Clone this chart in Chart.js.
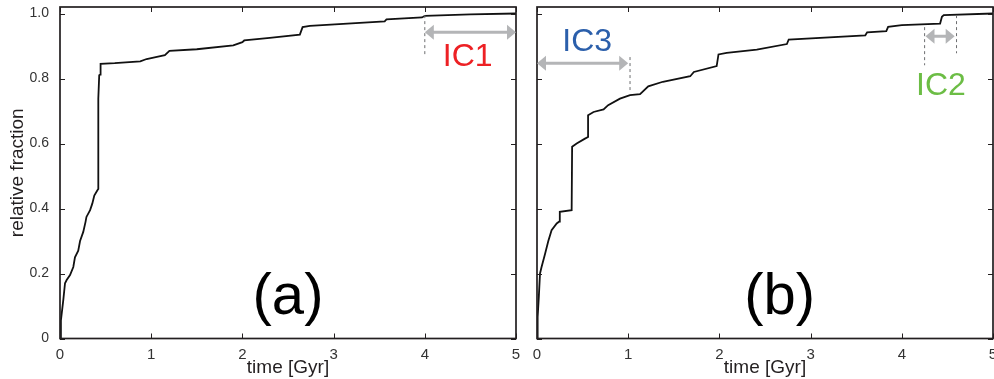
<!DOCTYPE html>
<html>
<head>
<meta charset="utf-8">
<script src="https://cdn.jsdelivr.net/npm/chart.js@4.4.1/dist/chart.umd.min.js"></script>
<style>
  html, body { margin: 0; padding: 0; background: #fff; }
  #wrap { position: relative; width: 994px; height: 379px; overflow: hidden; }
  canvas { position: absolute; top: 0; }
  #chart-a { left: 0; }
  #chart-b { left: 526px; }
</style>
</head>
<body>
<div id="wrap">
  <canvas id="chart-a" width="526" height="379"></canvas>
  <canvas id="chart-b" width="468" height="379"></canvas>
</div>
<script>
// cumulative fraction vs time, panel (a)
const timeA = [0, 0.01, 0.036, 0.055, 0.073, 0.11, 0.146, 0.164, 0.2, 0.22, 0.255, 0.28, 0.29, 0.33, 0.354, 0.376, 0.41, 0.42,
  0.42, 0.43, 0.44, 0.445, 0.6, 0.88, 0.95, 1.05, 1.15, 1.2, 1.5, 1.9, 2.0, 2.02, 2.3, 2.63, 2.66, 2.74, 3.56, 3.58, 3.97, 4.0, 4.5, 5.0];
const fracA = [0, 0.056, 0.118, 0.17, 0.18, 0.195, 0.22, 0.25, 0.27, 0.30, 0.328, 0.359, 0.374, 0.395, 0.415, 0.44, 0.456, 0.46,
  0.738, 0.81, 0.812, 0.845, 0.847, 0.853, 0.86, 0.866, 0.872, 0.885, 0.89, 0.902, 0.912, 0.917, 0.925, 0.935, 0.958, 0.962, 0.976, 0.982, 0.988, 0.993, 0.997, 1.0];

// panel (b)
const timeB = [0, 0.007, 0.02, 0.033, 0.05, 0.088, 0.124, 0.16, 0.216, 0.245, 0.25, 0.38, 0.385, 0.435, 0.526, 0.56, 0.56, 0.62, 0.73, 0.78,
  0.91, 1.02, 1.13, 1.22, 1.38, 1.68, 1.72, 1.97, 1.99, 2.08, 2.41, 2.74, 2.76, 3.6, 3.62, 3.83, 3.85, 4.0, 4.42, 4.44, 4.46, 5.0];
const fracB = [0, 0.066, 0.128, 0.2, 0.22, 0.26, 0.30, 0.333, 0.354, 0.36, 0.39, 0.395, 0.59, 0.60, 0.615, 0.62, 0.687, 0.697, 0.705, 0.718,
  0.738, 0.749, 0.752, 0.776, 0.79, 0.807, 0.82, 0.838, 0.874, 0.879, 0.889, 0.906, 0.92, 0.933, 0.942, 0.946, 0.959, 0.964, 0.969, 0.99, 0.995, 1.0];

const xTicks = [0, 1, 2, 3, 4, 5];
const yTicks = [0, 0.2, 0.4, 0.6, 0.8, 1.0];

// IC time windows [start, end] in Gyr
const ic1Span = [4.0, 5.0];
const ic2Span = [4.25, 4.6];
const ic3Span = [0, 1.02];

const FONT = 'Liberation Sans, Arial, sans-serif';
const INK = '#231f20';

function grayArrow(ctx, x1, x2, py) {
  const head = 9, half = 7.5;
  ctx.fillStyle = '#b4b5b7';
  ctx.strokeStyle = '#b4b5b7';
  ctx.lineWidth = 3;
  ctx.beginPath(); ctx.moveTo(x1 + head - 1, py); ctx.lineTo(x2 - head + 1, py); ctx.stroke();
  ctx.beginPath(); ctx.moveTo(x1, py); ctx.lineTo(x1 + head, py - half); ctx.lineTo(x1 + head, py + half); ctx.closePath(); ctx.fill();
  ctx.beginPath(); ctx.moveTo(x2, py); ctx.lineTo(x2 - head, py - half); ctx.lineTo(x2 - head, py + half); ctx.closePath(); ctx.fill();
}

function dashLine(ctx, px, py1, py2) {
  ctx.save();
  ctx.strokeStyle = '#6d6e70';
  ctx.lineWidth = 1;
  ctx.setLineDash([3, 3]);
  ctx.beginPath(); ctx.moveTo(px, py1); ctx.lineTo(px, py2); ctx.stroke();
  ctx.restore();
}

// frame with inward ticks + annotations
const panelPlugin = {
  id: 'panelMarks',
  afterDatasetsDraw(chart, args, opts) {
    const { ctx, chartArea: a, scales: { x, y } } = chart;
    ctx.save();
    ctx.strokeStyle = INK;
    ctx.lineWidth = 1;
    x.ticks.forEach(t => {
      const px = Math.round(x.getPixelForValue(t.value)) + 0.5;
      ctx.beginPath(); ctx.moveTo(px, a.bottom); ctx.lineTo(px, a.bottom - 5); ctx.stroke();
      ctx.beginPath(); ctx.moveTo(px, a.top); ctx.lineTo(px, a.top + 5); ctx.stroke();
    });
    y.ticks.forEach(t => {
      const py = Math.round(y.getPixelForValue(t.value)) + 0.5;
      ctx.beginPath(); ctx.moveTo(a.left, py); ctx.lineTo(a.left + 5, py); ctx.stroke();
      ctx.beginPath(); ctx.moveTo(a.right, py); ctx.lineTo(a.right - 5, py); ctx.stroke();
    });
    ctx.lineWidth = 1.7;
    ctx.strokeRect(a.left, a.top, a.right - a.left, a.bottom - a.top);

    (opts.windows || []).forEach(w => {
      w.dashes.forEach(d => dashLine(ctx, x.getPixelForValue(d.t), y.getPixelForValue(d.from), y.getPixelForValue(d.to)));
      grayArrow(ctx, x.getPixelForValue(w.span[0]), x.getPixelForValue(w.span[1]), y.getPixelForValue(w.arrowY));
      ctx.fillStyle = w.color;
      ctx.font = '32px ' + FONT;
      ctx.textAlign = 'center';
      ctx.textBaseline = 'middle';
      ctx.fillText(w.text, x.getPixelForValue(w.labelT), y.getPixelForValue(w.labelY));
    });

    ctx.fillStyle = '#000';
    ctx.font = '58px ' + FONT;
    ctx.textAlign = 'center';
    ctx.textBaseline = 'middle';
    ctx.fillText(opts.tag, x.getPixelForValue(opts.tagT), y.getPixelForValue(opts.tagY));
    ctx.restore();
  }
};

function makePanel(id, times, fracs, showY, axisW, rightPad, marks) {
  return new Chart(document.getElementById(id), {
    type: 'line',
    data: {
      datasets: [{
        data: times.map((t, i) => ({ x: t, y: fracs[i] })),
        borderColor: '#111',
        borderWidth: 1.8,
        pointRadius: 0,
        tension: 0,
        fill: false
      }]
    },
    options: {
      responsive: false,
      animation: false,
      devicePixelRatio: 1,
      layout: { padding: { left: 0, right: rightPad, top: 7, bottom: 0 } },
      plugins: { legend: { display: false }, tooltip: { enabled: false }, panelMarks: marks },
      scales: {
        x: {
          type: 'linear', min: 0, max: 5,
          afterBuildTicks: s => { s.ticks = xTicks.map(v => ({ value: v })); },
          afterFit: s => { s.height = 40.5; s.paddingLeft = 0; s.paddingRight = 0; },
          grid: { display: false, drawTicks: false }, border: { display: false },
          ticks: { color: '#333', font: { family: FONT, size: 15 }, padding: 7, maxRotation: 0 },
          title: { display: true, text: 'time [Gyr]', color: INK, font: { family: FONT, size: 19 }, padding: { top: 0, bottom: 0 } }
        },
        y: {
          type: 'linear', min: 0, max: 1.02,
          afterBuildTicks: s => { s.ticks = yTicks.map(v => ({ value: v })); },
          afterFit: s => { s.width = axisW; s.paddingTop = 0; s.paddingBottom = 0; },
          grid: { display: false, drawTicks: false }, border: { display: false },
          ticks: { display: showY, color: '#333', font: { family: FONT, size: 14 }, padding: 11,
                   callback: v => v === 0 ? '0' : v.toFixed(1) },
          title: { display: showY, text: 'relative fraction', color: INK, font: { family: FONT, size: 19 }, padding: { top: 6, bottom: 0 } }
        }
      }
    },
    plugins: [panelPlugin]
  });
}

makePanel('chart-a', timeA, fracA, true, 60, 10, {
  tag: '(a)', tagT: 2.5, tagY: 0.124,
  windows: [
    { text: 'IC1', color: '#ed2024', span: ic1Span, arrowY: 0.942, labelT: 4.47, labelY: 0.865,
      dashes: [{ t: ic1Span[0], from: 0.995, to: 0.872 }] }
  ]
});

makePanel('chart-b', timeB, fracB, false, 11, 1, {
  tag: '(b)', tagT: 2.66, tagY: 0.124,
  windows: [
    { text: 'IC3', color: '#2b5fab', span: [ic3Span[0], 1.0], arrowY: 0.847, labelT: 0.55, labelY: 0.912,
      dashes: [{ t: ic3Span[1], from: 0.866, to: 0.758 }] },
    { text: 'IC2', color: '#6cbd45', span: [4.26, 4.58], arrowY: 0.930, labelT: 4.43, labelY: 0.776,
      dashes: [{ t: ic2Span[0], from: 0.958, to: 0.841 }, { t: ic2Span[1], from: 0.995, to: 0.878 }] }
  ]
});
</script>
</body>
</html>
